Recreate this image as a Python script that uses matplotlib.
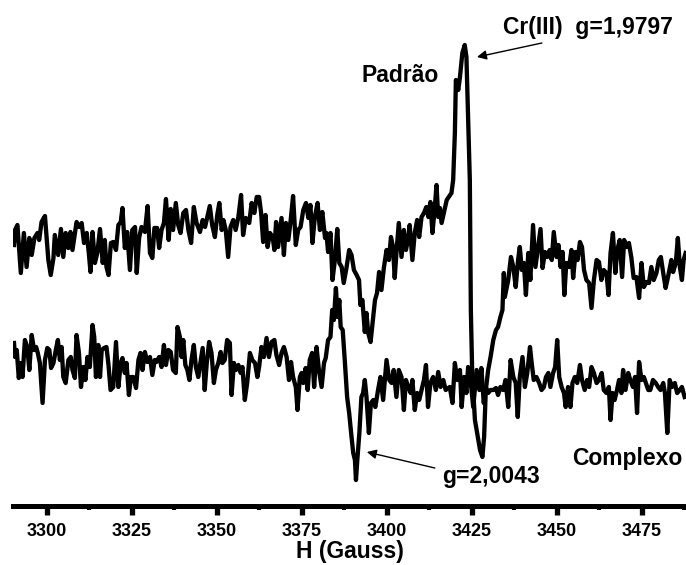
import matplotlib
matplotlib.use("Agg")
import matplotlib.pyplot as plt
from matplotlib.ticker import MultipleLocator

plt.rcParams['font.family'] = ['Liberation Sans', 'DejaVu Sans']
plt.rcParams['font.weight'] = 'bold'

# EPR spectra (field in Gauss, intensity in arbitrary units)
padrao_field = [
    3290.3, 3290.6, 3291.3, 3292.3, 3293.2, 3294.0, 3294.8, 3295.5, 3296.3, 3297.2,
    3297.7, 3298.4, 3299.4, 3300.4, 3301.1, 3301.9, 3302.3, 3303.3, 3304.1, 3304.8,
    3305.5, 3306.3, 3306.9, 3307.5, 3308.7, 3309.5, 3310.2, 3310.9, 3311.7, 3312.3,
    3312.8, 3313.4, 3314.1, 3314.8, 3315.6, 3316.4, 3317.0, 3317.5, 3318.1, 3318.8,
    3319.5, 3320.3, 3321.0, 3321.7, 3322.2, 3322.9, 3323.6, 3324.4, 3325.1, 3325.9,
    3326.4, 3327.1, 3327.8, 3328.8, 3329.6, 3330.3, 3331.0, 3331.6, 3332.4, 3333.0,
    3333.7, 3334.4, 3335.0, 3335.8, 3336.4, 3337.1, 3337.9, 3338.6, 3339.3, 3340.1,
    3340.9, 3341.6, 3342.4, 3343.2, 3344.0, 3345.0, 3345.8, 3346.5, 3347.1, 3347.9,
    3348.6, 3349.4, 3350.1, 3350.7, 3351.4, 3351.9, 3352.6, 3353.3, 3354.0, 3354.8,
    3355.5, 3356.3, 3357.1, 3357.7, 3358.5, 3359.5, 3360.2, 3361.0, 3361.7, 3362.4,
    3363.0, 3363.6, 3364.3, 3364.9, 3365.6, 3366.4, 3366.9, 3367.4, 3368.0, 3369.0,
    3369.7, 3370.3, 3371.0, 3371.7, 3372.4, 3373.2, 3373.9, 3374.6, 3375.4, 3376.2,
    3376.9, 3377.5, 3378.1, 3378.8, 3379.6, 3380.3, 3381.0, 3381.8, 3382.2, 3382.7,
    3383.4, 3384.0, 3384.7, 3385.4, 3386.0, 3386.7, 3387.3, 3388.1, 3388.9, 3389.6,
    3390.3, 3391.1, 3391.8, 3392.2, 3392.8, 3393.5, 3394.0, 3394.5, 3395.2, 3395.8,
    3396.5, 3397.1, 3397.7, 3398.4, 3399.1, 3399.9, 3400.6, 3401.2, 3401.8, 3402.3,
    3402.8, 3403.5, 3404.3, 3405.0, 3405.6, 3406.3, 3406.7, 3407.5, 3408.2, 3408.9,
    3409.5, 3410.2, 3410.9, 3411.6, 3412.2, 3412.8, 3413.4, 3414.1, 3414.6, 3415.1,
    3415.6, 3416.1, 3417.6, 3419.0, 3419.5, 3420.0, 3420.3, 3421.0, 3421.5, 3422.2,
    3422.9, 3423.4, 3423.9, 3424.4, 3424.7, 3425.1, 3425.9, 3426.9, 3427.4, 3428.1,
    3428.6, 3429.1, 3429.8, 3430.5, 3431.3, 3432.1, 3432.7, 3433.4, 3434.0, 3434.4,
    3434.7, 3435.7, 3436.5, 3437.2, 3437.9, 3438.6, 3439.1, 3439.7, 3440.3, 3440.9,
    3441.6, 3442.2, 3443.0, 3443.7, 3444.5, 3445.2, 3445.8, 3446.5, 3447.2, 3447.9,
    3448.5, 3449.1, 3449.9, 3450.5, 3451.1, 3451.7, 3452.2, 3452.8, 3453.6, 3454.3,
    3454.8, 3455.5, 3456.1, 3456.8, 3457.4, 3458.0, 3458.7, 3459.5, 3460.2, 3460.9,
    3461.7, 3462.4, 3463.1, 3463.8, 3464.6, 3465.2, 3465.8, 3466.5, 3467.2, 3467.8,
    3468.5, 3469.2, 3469.8, 3470.5, 3471.2, 3471.9, 3472.6, 3473.4, 3474.2, 3474.9,
    3475.6, 3476.4, 3477.1, 3477.8, 3478.5, 3479.3, 3480.0, 3480.6, 3481.3, 3482.0,
    3482.7, 3483.7, 3484.2, 3485.0, 3485.6, 3486.2, 3486.8, 3487.3, 3487.9,
]
padrao_int = [
    261, 276, 281, 233, 273, 239, 268, 251, 268, 273,
    266, 284, 290, 246, 231, 248, 271, 251, 277, 249,
    273, 258, 274, 256, 284, 279, 283, 263, 273, 253,
    234, 274, 243, 253, 277, 243, 266, 239, 231, 263,
    264, 256, 281, 284, 298, 258, 274, 236, 276, 279,
    233, 268, 279, 274, 300, 253, 248, 278, 278, 258,
    276, 283, 307, 266, 297, 276, 303, 281, 273, 293,
    296, 276, 263, 299, 283, 274, 286, 279, 288, 300,
    281, 269, 291, 303, 276, 286, 276, 249, 279, 286,
    276, 289, 311, 271, 288, 283, 303, 293, 309, 309,
    293, 264, 291, 259, 273, 269, 256, 284, 259, 288,
    251, 283, 266, 286, 310, 261, 276, 279, 296, 303,
    288, 301, 263, 289, 303, 276, 294, 268, 273, 254,
    273, 226, 246, 277, 243, 239, 223, 238, 256, 251,
    236, 231, 226, 201, 206, 174, 193, 173, 164, 183,
    206, 213, 234, 216, 238, 256, 246, 269, 259, 228,
    253, 283, 249, 276, 256, 268, 281, 246, 273, 286,
    269, 289, 293, 299, 289, 304, 273, 299, 321, 289,
    298, 283, 306, 313, 326, 373, 426, 416, 429, 453,
    461, 449, 389, 326, 196, 133, 86, 66, 56, 49,
    69, 116, 136, 149, 166, 176, 179, 189, 196, 233,
    209, 226, 249, 239, 219, 246, 259, 236, 243, 211,
    253, 226, 281, 239, 259, 277, 238, 254, 249, 256,
    246, 274, 249, 261, 239, 254, 211, 243, 239, 256,
    228, 254, 246, 264, 259, 236, 226, 223, 198, 226,
    246, 244, 226, 236, 233, 211, 253, 273, 233, 256,
    266, 229, 266, 259, 263, 249, 228, 229, 208, 243,
    219, 224, 223, 239, 226, 233, 246, 249, 233, 218,
    229, 246, 234, 243, 268, 239, 226, 246, 253,
]

complexo_field = [
    3290.3, 3290.6, 3291.1, 3291.7, 3292.3, 3292.8, 3293.5, 3294.2, 3294.8, 3295.5,
    3296.2, 3296.8, 3297.3, 3297.9, 3298.7, 3299.4, 3300.1, 3300.7, 3301.2, 3301.9,
    3302.6, 3303.2, 3303.8, 3304.3, 3304.8, 3305.5, 3306.3, 3307.0, 3307.5, 3308.2,
    3308.7, 3309.4, 3310.0, 3310.7, 3311.3, 3311.9, 3312.6, 3313.4, 3313.9, 3314.4,
    3315.1, 3315.6, 3316.1, 3316.8, 3317.5, 3318.1, 3318.7, 3319.5, 3320.3, 3321.0,
    3321.7, 3322.2, 3322.9, 3323.4, 3324.1, 3324.7, 3325.4, 3326.2, 3326.9, 3327.5,
    3328.1, 3328.8, 3329.5, 3330.3, 3331.0, 3331.7, 3332.2, 3333.0, 3333.7, 3334.4,
    3335.0, 3335.7, 3336.4, 3337.1, 3337.9, 3338.4, 3339.1, 3339.6, 3340.1, 3340.7,
    3341.3, 3341.9, 3342.5, 3343.2, 3343.8, 3344.5, 3345.8, 3346.4, 3347.0, 3347.7,
    3348.4, 3349.1, 3349.7, 3350.4, 3351.1, 3351.6, 3352.3, 3353.0, 3353.8, 3354.3,
    3355.0, 3355.6, 3356.3, 3357.0, 3357.5, 3358.2, 3358.9, 3359.7, 3360.4, 3361.2,
    3361.9, 3362.4, 3363.1, 3363.8, 3364.6, 3365.3, 3366.1, 3366.9, 3367.5, 3368.3,
    3369.0, 3369.7, 3370.5, 3371.2, 3371.8, 3372.4, 3373.2, 3373.7, 3374.4, 3374.9,
    3375.4, 3376.1, 3376.7, 3377.3, 3378.0, 3378.6, 3379.3, 3380.0, 3380.8, 3381.5,
    3382.0, 3382.7, 3383.4, 3383.9, 3384.4, 3385.0, 3385.5, 3386.0, 3386.4, 3387.0,
    3387.6, 3388.3, 3388.9, 3389.6, 3390.1, 3390.6, 3390.9, 3391.3, 3391.9, 3392.5,
    3393.0, 3393.5, 3394.0, 3394.7, 3395.3, 3396.0, 3396.6, 3397.4, 3398.1, 3398.9,
    3399.4, 3399.9, 3400.7, 3401.4, 3402.0, 3402.8, 3403.5, 3404.3, 3405.0, 3405.6,
    3406.3, 3407.0, 3407.5, 3408.2, 3408.9, 3409.5, 3410.2, 3410.9, 3411.5, 3412.1,
    3412.8, 3413.6, 3414.4, 3415.1, 3415.8, 3416.6, 3417.3, 3418.5, 3419.3, 3420.0,
    3420.7, 3421.5, 3422.0, 3422.7, 3423.4, 3423.9, 3424.6, 3425.4, 3426.4, 3427.2,
    3427.8, 3428.5, 3429.1, 3429.8, 3430.5, 3431.3, 3432.1, 3432.7, 3433.4, 3434.2,
    3434.9, 3435.7, 3436.4, 3437.2, 3437.9, 3438.5, 3439.1, 3439.9, 3440.6, 3441.3,
    3442.1, 3442.6, 3443.2, 3444.0, 3444.8, 3445.5, 3446.2, 3446.8, 3447.5, 3448.1,
    3448.9, 3449.5, 3450.1, 3450.7, 3451.4, 3452.1, 3452.6, 3453.3, 3454.0, 3454.6,
    3455.3, 3456.0, 3456.8, 3457.4, 3458.2, 3458.9, 3459.5, 3460.2, 3460.9, 3461.7,
    3462.4, 3463.2, 3463.8, 3464.6, 3465.3, 3465.8, 3466.4, 3467.0, 3467.7, 3468.3,
    3469.0, 3469.5, 3470.2, 3471.0, 3471.6, 3472.4, 3473.0, 3473.6, 3474.2, 3474.9,
    3475.6, 3476.2, 3476.9, 3477.5, 3478.3, 3479.1, 3479.8, 3480.5, 3481.3, 3481.8,
    3482.5, 3483.2, 3483.9, 3484.7, 3485.4, 3486.2, 3486.8, 3487.6,
]
complexo_int = [
    163, 149, 156, 128, 143, 129, 166, 159, 136, 171,
    156, 159, 153, 143, 103, 146, 158, 156, 138, 143,
    156, 166, 146, 159, 129, 123, 146, 149, 136, 128,
    171, 153, 119, 139, 126, 149, 139, 181, 169, 129,
    161, 129, 156, 158, 159, 141, 116, 119, 164, 119,
    143, 148, 133, 143, 111, 129, 129, 118, 146, 153,
    136, 154, 144, 149, 131, 146, 144, 149, 139, 161,
    141, 156, 154, 136, 133, 179, 169, 149, 166, 141,
    136, 126, 146, 161, 139, 129, 158, 116, 143, 164,
    153, 123, 136, 143, 154, 143, 146, 166, 163, 111,
    143, 136, 141, 133, 139, 106, 123, 153, 146, 143,
    129, 139, 159, 149, 168, 149, 164, 166, 151, 141,
    153, 159, 149, 126, 144, 129, 119, 96, 129, 133,
    123, 138, 116, 146, 153, 119, 159, 136, 119, 143,
    148, 166, 169, 196, 186, 218, 189, 206, 179, 176,
    146, 109, 93, 69, 53, 46, 26, 46, 73, 109,
    113, 126, 109, 73, 103, 106, 99, 116, 129, 106,
    126, 146, 126, 123, 136, 109, 136, 129, 96, 126,
    119, 113, 126, 96, 113, 106, 116, 126, 141, 99,
    123, 129, 116, 134, 119, 126, 116, 119, 103, 143,
    126, 136, 99, 129, 113, 139, 126, 99, 136, 116,
    138, 103, 119, 113, 116, 116, 118, 111, 119, 116,
    126, 99, 146, 129, 123, 89, 129, 149, 119, 133,
    159, 143, 126, 129, 123, 116, 119, 129, 133, 119,
    133, 139, 166, 129, 119, 113, 99, 119, 99, 123,
    129, 123, 141, 126, 116, 126, 119, 139, 133, 123,
    126, 133, 116, 113, 119, 86, 113, 106, 116, 126,
    113, 136, 116, 133, 126, 119, 129, 93, 144, 126,
    129, 123, 116, 116, 126, 123, 119, 116, 123, 113,
    73, 126, 119, 123, 113, 116, 119, 109,
]

major_ticks = [3300, 3325, 3350, 3375, 3400, 3425, 3450, 3475]

fig = plt.figure(figsize=(6.86, 5.65), dpi=100)
ax = fig.add_axes([13 / 686, 59 / 565, 673 / 686, 506 / 565])

ax.plot(padrao_field, padrao_int, color='black', lw=3.1)
ax.plot(complexo_field, complexo_int, color='black', lw=3.1)

ax.set_xlim(3290, 3488)
ax.set_ylim(0, 506)

for side in ['top', 'left', 'right']:
    ax.spines[side].set_visible(False)
ax.spines['bottom'].set_linewidth(3.6)
ax.set_yticks([])
ax.set_xticks(major_ticks)
ax.xaxis.set_minor_locator(MultipleLocator(12.5))
ax.tick_params(axis='x', which='major', length=6.5, width=3.8, labelsize=13, pad=6)
ax.tick_params(axis='x', which='minor', length=3.2, width=3.0)
for lab in ax.get_xticklabels():
    lab.set_fontweight('bold')
ax.set_xlabel('H (Gauss)', fontsize=16.5, fontweight='bold', labelpad=0)

# annotations
ax.text(3434.1, 472, 'Cr(III)  g=1,9797', fontsize=16.5, fontweight='bold', ha='left', va='baseline')
ax.text(3392.6, 424, 'Padrão', fontsize=16.5, fontweight='bold', ha='left', va='baseline')
ax.text(3416.2, 23, 'g=2,0043', fontsize=16.5, fontweight='bold', ha='left', va='baseline')
ax.text(3454.4, 41, 'Complexo', fontsize=16.5, fontweight='bold', ha='left', va='baseline')

arrow = dict(arrowstyle='-|>', lw=1.0, color='black', mutation_scale=14, shrinkA=0, shrinkB=0)
ax.annotate('', xy=(3426.5, 449), xytext=(3445.6, 463), arrowprops=arrow)
ax.annotate('', xy=(3394.1, 54), xytext=(3414.1, 38), arrowprops=arrow)

fig.savefig('out.png', dpi=100)
